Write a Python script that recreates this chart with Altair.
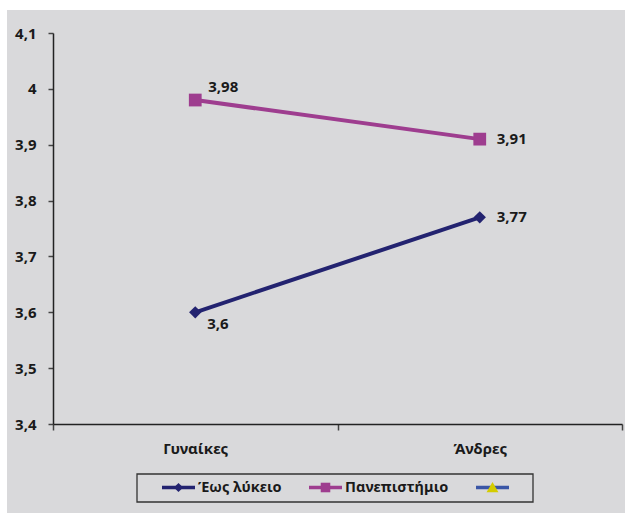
import altair as alt
import pandas as pd

# Chart values
categories = ["Γυναίκες", "Άνδρες"]
series_names = ["Έως λύκειο", "Πανεπιστήμιο", ""]
lykeio = [3.6, 3.77]
panepistimio = [3.98, 3.91]
y_ticks = [3.4, 3.5, 3.6, 3.7, 3.8, 3.9, 4.0, 4.1]

# Styling
FONT = "Noto Sans"
BG = "#D9D9DB"
TEXT = "#1A1A1A"
line_colors = ["#232370", "#9E3D8F", "#3A56A6"]
marker_colors = ["#232370", "#9E3D8F", "#D4CC00"]
marker_paths = [
    "M0,-0.28L0.28,0L0,0.28L-0.28,0Z",
    "M-0.29,-0.29L0.29,-0.29L0.29,0.29L-0.29,0.29Z",
    "M0,-0.34L0.36,0.29L-0.36,0.29Z",
]
line_paths = ["M-1,-0.1L1,-0.1L1,0.1L-1,0.1Z"] * 3

rows = []
for name, vals in [(series_names[0], lykeio), (series_names[1], panepistimio)]:
    for i, (cat, v) in enumerate(zip(categories, vals)):
        rows.append({"series": name, "category": cat, "pos": i + 0.5, "value": v})
df = pd.DataFrame(rows)

W, H = 569, 391

cat_expr = " : ".join(
    f"datum.value == {i + 0.5} ? '{c}'" for i, c in enumerate(categories)
) + " : ''"

x_enc = alt.X(
    "pos:Q",
    scale=alt.Scale(domain=[0, len(categories)], nice=False, zero=False),
    axis=alt.Axis(
        values=[k * 0.5 for k in range(2 * len(categories) + 1)],
        labelExpr=cat_expr,
        tickOpacity={"condition": {"test": "datum.value % 1 === 0", "value": 1}, "value": 0},
        title=None,
        grid=False,
        tickSize=6,
        labelPadding=11,
        zindex=1,
    ),
)
y_enc = alt.Y(
    "value:Q",
    scale=alt.Scale(domain=[y_ticks[0], y_ticks[-1]], nice=False, zero=False),
    axis=alt.Axis(
        values=y_ticks,
        labelExpr="replace(format(datum.value, '.1~f'), '.', ',')",
        title=None,
        grid=False,
        tickSize=5,
        labelPadding=12,
        zindex=1,
    ),
)

base = alt.Chart(df).encode(x=x_enc, y=y_enc)

# Outer panel and legend frame
panel = alt.Chart(alt.Data(values=[{}])).mark_rect(fill=BG).encode(
    x=alt.value(-46), x2=alt.value(W + 3), y=alt.value(-23), y2=alt.value(H + 89)
)
legend_box = alt.Chart(alt.Data(values=[{}])).mark_rect(
    fill="transparent", stroke="#333333", strokeWidth=1.3
).encode(x=alt.value(84), x2=alt.value(480), y=alt.value(441), y2=alt.value(469))

lines = base.mark_line(strokeWidth=4).encode(
    color=alt.Color(
        "series:N",
        scale=alt.Scale(domain=series_names, range=line_colors),
        legend=None,
    ),
    detail="series:N",
)

legend_common = dict(
    orient="none",
    legendX=109,
    legendY=438,
    direction="horizontal",
    title=None,
    symbolSize=1089,
    symbolStrokeWidth=0,
    symbolOpacity=1,
    labelFont=FONT,
    labelFontSize=14.5,
    labelFontWeight="bold",
    labelColor=TEXT,
    labelOffset=3,
    columnPadding=27,
    padding=0,
)

# Legend line strokes (invisible points that only feed the legend)
legend_lines = base.mark_point(filled=True, opacity=0, size=10).encode(
    fill=alt.Fill(
        "series:N",
        scale=alt.Scale(domain=series_names, range=line_colors),
        legend=alt.Legend(zindex=0, **legend_common),
    ),
    shape=alt.Shape(
        "series:N",
        scale=alt.Scale(domain=series_names, range=line_paths),
        legend=alt.Legend(zindex=0, **legend_common),
    ),
)

markers_legend = dict(legend_common)
markers_legend["labelOpacity"] = 0
markers = base.mark_point(filled=True, size=1936, strokeWidth=0, opacity=1).encode(
    fill=alt.Fill(
        "series:N",
        scale=alt.Scale(domain=series_names, range=marker_colors),
        legend=alt.Legend(zindex=2, **markers_legend),
    ),
    shape=alt.Shape(
        "series:N",
        scale=alt.Scale(domain=series_names, range=marker_paths),
        legend=alt.Legend(zindex=2, **markers_legend),
    ),
)

label_base = base.transform_calculate(
    label="replace(format(datum.value, '.2~f'), '.', ',')"
)
text_style = dict(font=FONT, fontSize=15, fontWeight="bold", color=TEXT, align="left", baseline="middle")

labels_right = label_base.transform_filter(
    f"datum.category == '{categories[1]}'"
).mark_text(dx=17, **text_style).encode(text="label:N")
labels_up = label_base.transform_filter(
    f"datum.category == '{categories[0]}' && datum.series == '{series_names[1]}'"
).mark_text(dx=13, dy=-13, **text_style).encode(text="label:N")
labels_down = label_base.transform_filter(
    f"datum.category == '{categories[0]}' && datum.series == '{series_names[0]}'"
).mark_text(dx=12, dy=12, **text_style).encode(text="label:N")

chart = (
    alt.layer(panel, legend_box, lines, legend_lines, markers, labels_right, labels_up, labels_down)
    .resolve_scale(fill="independent", shape="independent")
    .properties(
        width=W,
        height=H,
        autosize="none",
        padding={"left": 53, "top": 33, "right": 3, "bottom": 89},
        background="white",
    )
    .configure_view(stroke="transparent")
    .configure_axis(
        labelFont=FONT,
        labelFontSize=15,
        labelFontWeight="bold",
        labelColor=TEXT,
        domainColor="#222222",
        domainWidth=1.5,
        tickColor="#444444",
        tickWidth=1.5,
    )
)

chart.save("out.html", embed_options={"renderer": "svg", "actions": False})
